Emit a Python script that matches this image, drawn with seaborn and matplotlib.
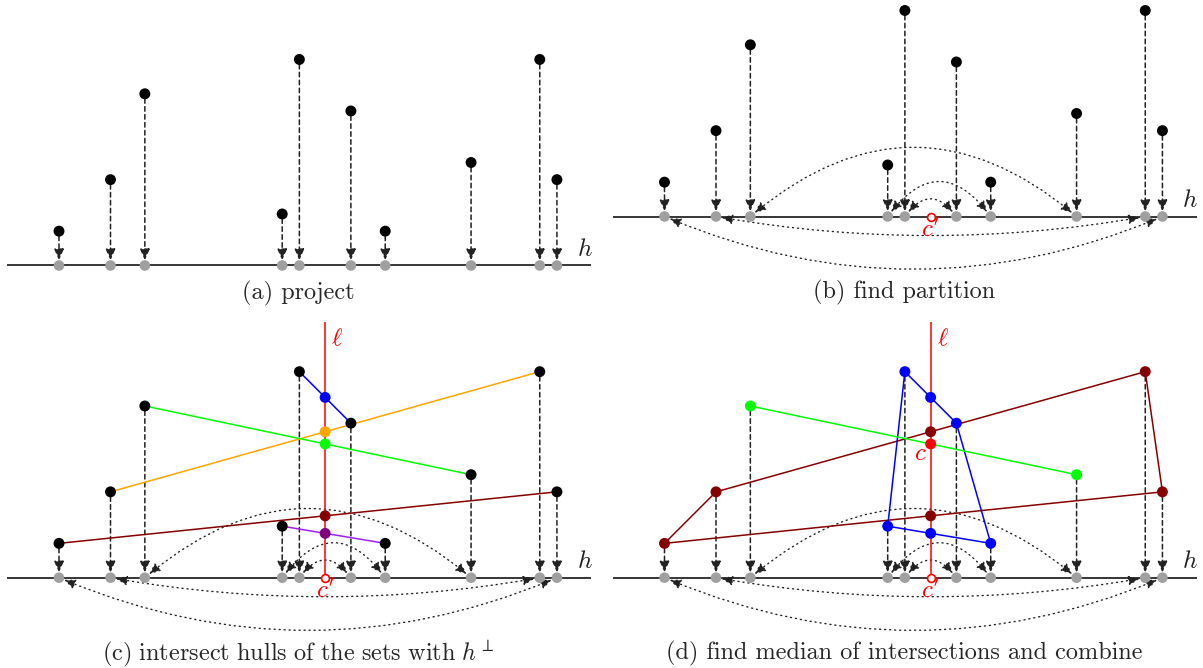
import matplotlib
matplotlib.use("Agg")
import matplotlib.pyplot as plt
import numpy as np
import seaborn as sns

# example point set: position along h and height above h
xs = [3.5, 6.5, 8.5, 16.5, 17.5, 20.5, 22.5, 27.5, 31.5, 32.5]
heights = [2, 5, 10, 3, 12, 9, 2, 6, 12, 5]

# partition pairs, hull colours in (c) and (d)
pairs = [(4, 5), (1, 8), (2, 7), (0, 9), (3, 6)]
line_colors_c = ["#0000ff", "#ffa500", "#00ff00", "#870000", "#a020f0"]
dot_colors_c = ["#0000ff", "#ffa500", "#00ff00", "#870000", "#800080"]
point_colors_d = ["#0000ff", "#870000", "#00ff00", "#870000", "#0000ff"]
cross_colors_d = ["#0000ff", "#870000", "#ff0000", "#870000", "#0000ff"]

# combined hulls in (d)
hulls = [[0, 1, 8, 9], [3, 4, 5, 6], [2, 7]]
hull_colors = ["#870000", "#0000ff", "#00ff00"]

# dotted arcs between paired projections, signed bend (>0 above h)
arcs = [(2, 7, 4.0), (3, 6, 2.0), (4, 5, 1.0), (1, 8, -1.1), (0, 9, -3.05)]

captions = [
    "(a) project",
    "(b) find partition",
    r"$\mathrm{(c)\ intersect\ hulls\ of\ the\ sets\ with\ }h^{\perp}$",
    "(d) find median of intersections and combine",
]

GREY = "#a0a0a0"
DASH = "#222222"
RED = "#ff0000"
DOT_S = 62

# layout in pixels
FW, FH = 1203, 668
S = 17.17          # pixels per unit
X0 = 0.064
W = 597
H_LEFT, H_RIGHT = 0.5, 34.5
ELL_TOP = 14.9

sns.set_style("white")
plt.rcParams["mathtext.fontset"] = "cm"

fig = plt.figure(figsize=(FW / 100, FH / 100), dpi=100)


def make_panel(left, top, bottom, h_row):
    ax = fig.add_axes([left / FW, 1 - bottom / FH, W / FW, (bottom - top) / FH])
    ax.set_xlim(X0, X0 + W / S)
    ax.set_ylim(-(bottom - h_row) / S, (h_row - top) / S)
    ax.axis("off")
    return ax


def base(ax, cap, cap_y):
    ax.hlines(0, H_LEFT, H_RIGHT, color="black", lw=1.1, zorder=1)
    ax.text(34.1, 0.95, "$h$", fontsize=18, ha="center", va="center", color="#222222")
    ax.text(X0 + W / S / 2, cap_y, cap, fontsize=17.5, ha="center", va="center",
            family="cmr10")
    # projections onto h
    for x, y in zip(xs, heights):
        ax.annotate("", xy=(x, 0), xytext=(x, y),
                    arrowprops=dict(arrowstyle="-|>,head_length=0.55,head_width=0.24",
                                    mutation_scale=12, color=DASH, lw=1.1,
                                    linestyle=(0, (3, 2.2)), shrinkA=3.5, shrinkB=3.8),
                    zorder=2)
    sns.scatterplot(x=xs, y=np.zeros(len(xs)), color=GREY, s=DOT_S - 4, edgecolor="none",
                    ax=ax, zorder=4, legend=False)


def draw_arcs(ax):
    for i, j, bend in arcs:
        d = xs[j] - xs[i]
        rad = -2 * bend / d
        ax.annotate("", xy=(xs[j], 0), xytext=(xs[i], 0),
                    arrowprops=dict(arrowstyle="<|-|>,head_length=0.55,head_width=0.24",
                                    mutation_scale=12, color=DASH, lw=1.0,
                                    linestyle=(0, (0.8, 2.8)),
                                    connectionstyle=f"arc3,rad={rad}",
                                    shrinkA=4, shrinkB=4),
                    zorder=2)


def draw_cprime(ax, cx):
    sns.scatterplot(x=[cx], y=[0], s=32, facecolor="white", edgecolor=RED,
                    linewidth=1.2, ax=ax, zorder=6, legend=False)
    ax.text(cx, -0.78, "$c'$", color=RED, fontsize=18, ha="center", va="center", zorder=6)


def draw_ell(ax, cx):
    ax.vlines(cx, 0, ELL_TOP, color=RED, lw=1.1, zorder=2)
    ax.text(cx + 0.35, 13.95, r"$\ell$", color=RED, fontsize=18, ha="left", va="center")


def crossing(i, j, cx):
    return np.interp(cx, [xs[i], xs[j]], [heights[i], heights[j]])


cx = float(np.median(xs))
crosses = [crossing(i, j, cx) for i, j in pairs]

# (a)
ax_a = make_panel(0, 0, 310, 265.5)
base(ax_a, captions[0], -1.6)
sns.scatterplot(x=xs, y=heights, color="black", s=DOT_S, edgecolor="none", ax=ax_a,
                zorder=5, legend=False)

# (b)
ax_b = make_panel(605.5, 0, 310, 216.5)
base(ax_b, captions[1], -4.4)
draw_arcs(ax_b)
draw_cprime(ax_b, cx)
sns.scatterplot(x=xs, y=heights, color="black", s=DOT_S, edgecolor="none", ax=ax_b,
                zorder=5, legend=False)

# (c)
ax_c = make_panel(0, 310, 668, 577.7)
base(ax_c, captions[2], -4.4)
draw_arcs(ax_c)
draw_ell(ax_c, cx)
draw_cprime(ax_c, cx)
for (i, j), lc, dc, cy in zip(pairs, line_colors_c, dot_colors_c, crosses):
    sns.lineplot(x=[xs[i], xs[j]], y=[heights[i], heights[j]], color=lc, lw=1.1,
                 ax=ax_c, zorder=3, sort=False, estimator=None)
    sns.scatterplot(x=[cx], y=[cy], color=dc, s=DOT_S, edgecolor="none", ax=ax_c,
                    zorder=5, legend=False)
sns.scatterplot(x=xs, y=heights, color="black", s=DOT_S, edgecolor="none", ax=ax_c,
                zorder=5, legend=False)

# (d)
ax_d = make_panel(605.5, 310, 668, 577.7)
base(ax_d, captions[3], -4.4)
draw_arcs(ax_d)
draw_ell(ax_d, cx)
draw_cprime(ax_d, cx)
for hull, hc in zip(hulls, hull_colors):
    loop = hull + [hull[0]] if len(hull) > 2 else hull
    ax_d.plot([xs[k] for k in loop], [heights[k] for k in loop], color=hc, lw=1.1,
              zorder=3)
for (i, j), pc, cc, cy in zip(pairs, point_colors_d, cross_colors_d, crosses):
    sns.scatterplot(x=[xs[i], xs[j]], y=[heights[i], heights[j]], color=pc, s=DOT_S,
                    edgecolor="none", ax=ax_d, zorder=5, legend=False)
    sns.scatterplot(x=[cx], y=[cy], color=cc, s=DOT_S, edgecolor="none", ax=ax_d,
                    zorder=5, legend=False)
c_med = float(np.median(crosses))
ax_d.text(cx - 0.25, c_med - 0.55, "$c$", color=RED, fontsize=18, ha="right", va="center")

fig.savefig("out.png", dpi=100)
